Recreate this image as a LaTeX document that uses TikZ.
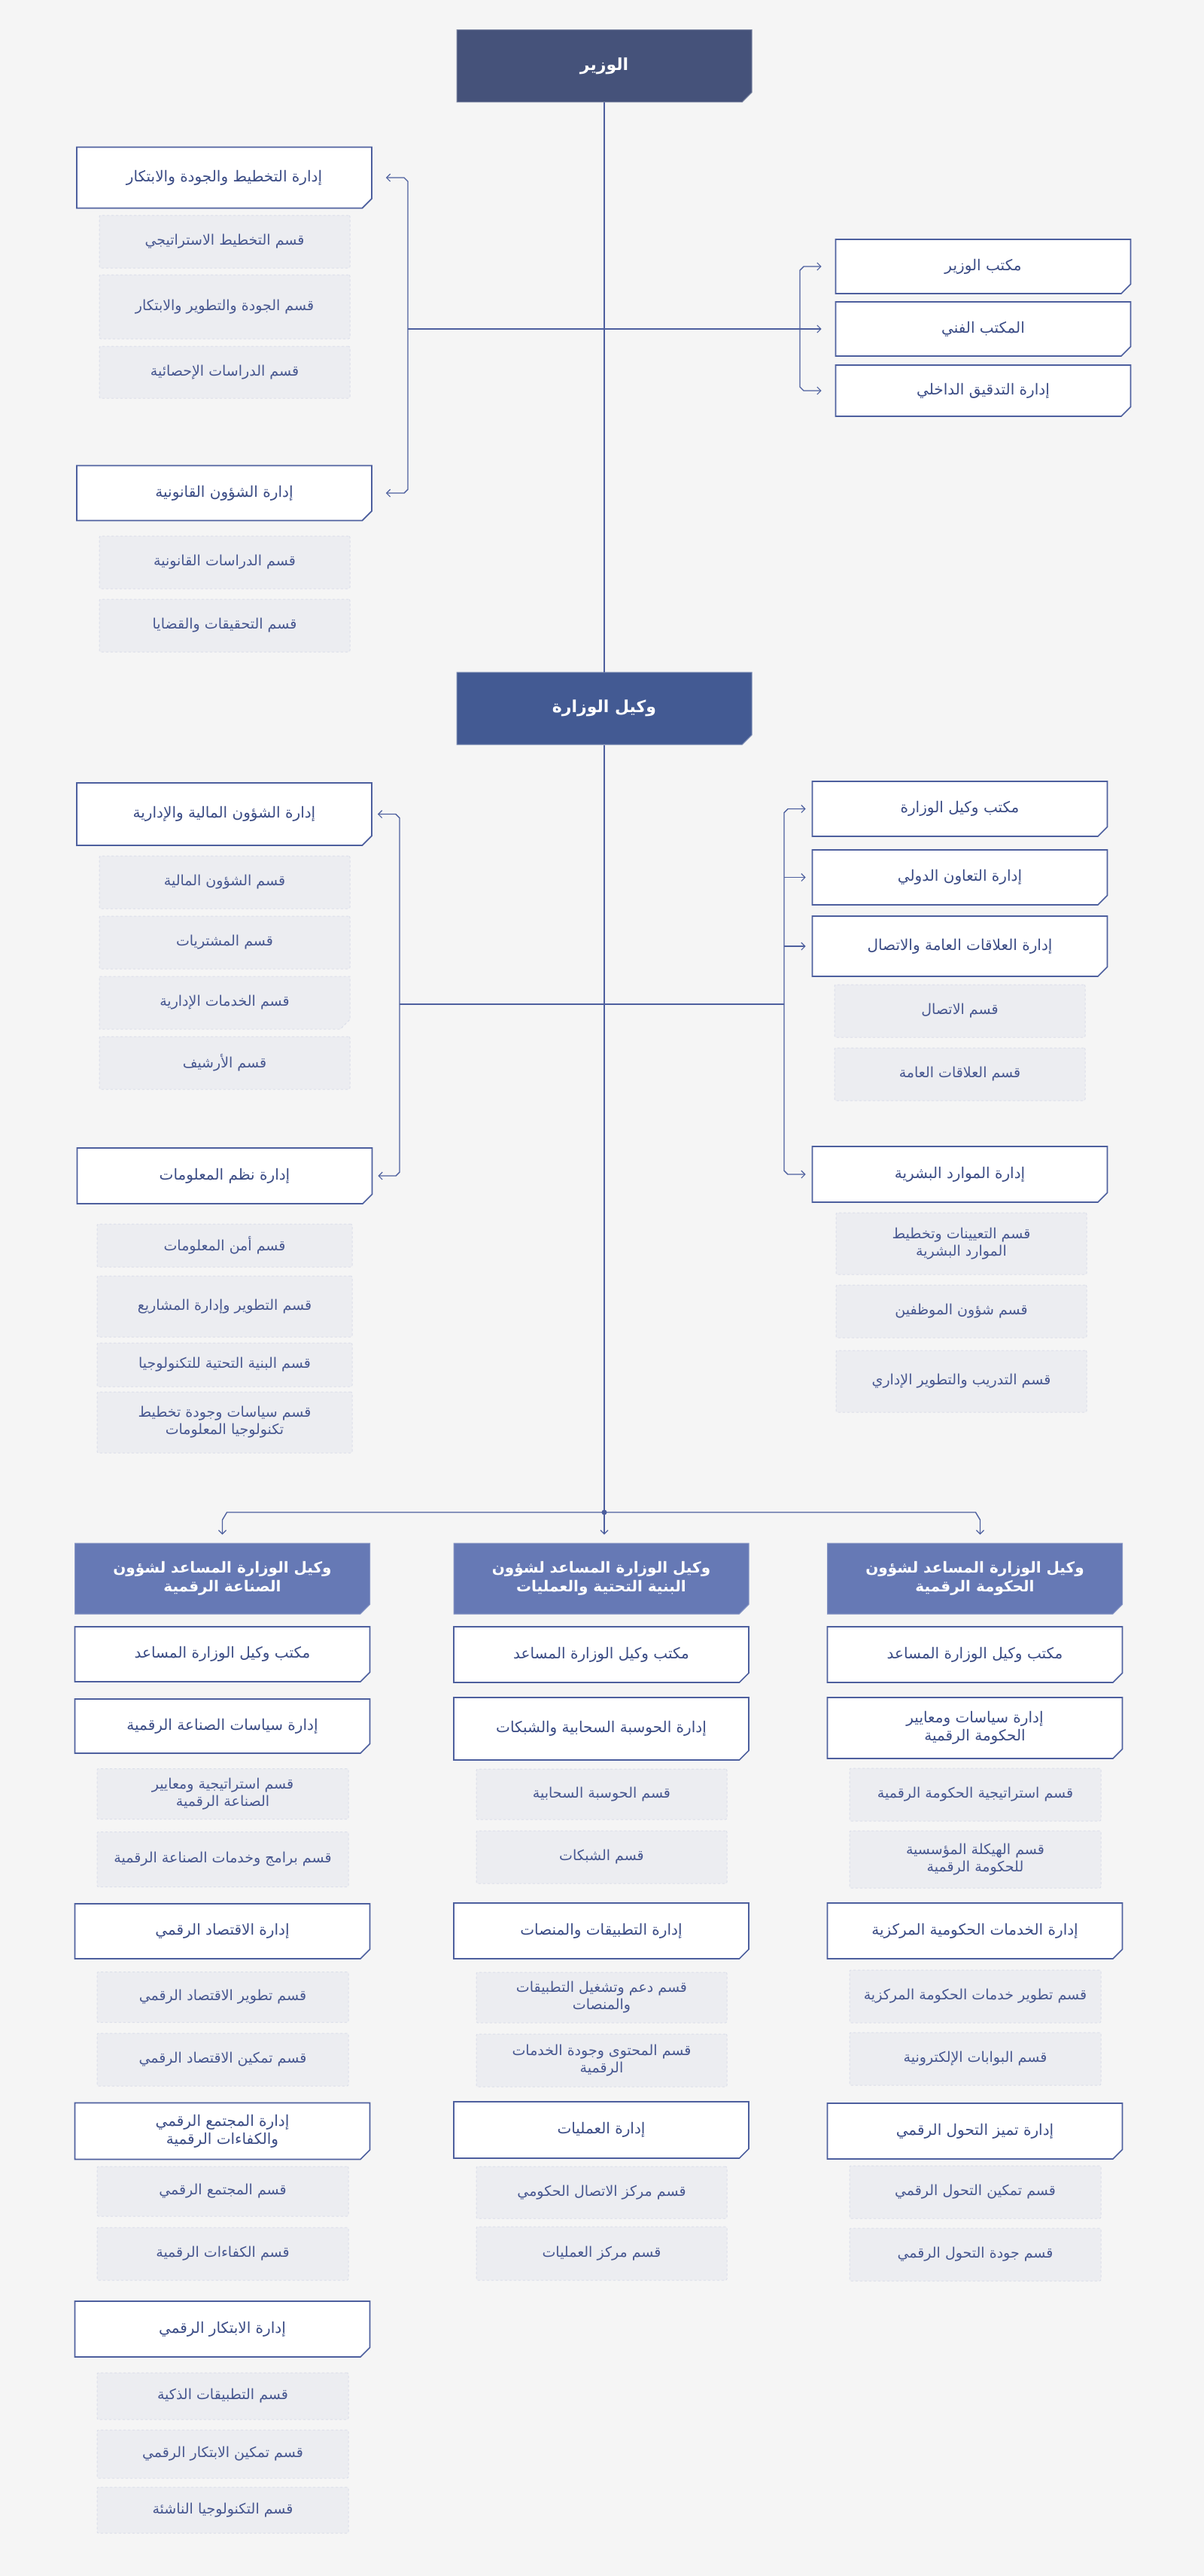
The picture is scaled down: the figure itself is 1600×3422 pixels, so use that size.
\documentclass[tikz,border=0pt]{standalone}
\usepackage{fontspec}
\setmainfont{DejaVu Sans}
\newfontfamily\arabicfont[Script=Arabic]{DejaVu Sans}
\TeXXeTstate=1
\usetikzlibrary{arrows.meta,calc,shapes.misc}
\definecolor{bgc}{HTML}{F5F5F5}
\definecolor{topc}{HTML}{45527A}
\definecolor{vicec}{HTML}{435A93}
\definecolor{headc}{HTML}{6679B5}
\definecolor{linec}{HTML}{4D5F9E}
\definecolor{deptc}{HTML}{3B4C85}
\definecolor{secfill}{HTML}{ECEDF1}
\definecolor{secdraw}{HTML}{DCDFEA}
\definecolor{sectext}{HTML}{475790}
\newcommand{\artxt}[1]{{\arabicfont\beginR #1\endR}}
\tikzset{
  conn/.style={draw=linec, line width=1.4pt},
  arrowend/.style={-{Straight Barb[length=5pt,width=10pt,line width=1.2pt]}},
  cutbox/.style={chamfered rectangle, chamfered rectangle corners=south east,
    chamfered rectangle xsep=9pt, inner sep=2pt, align=center},
  topbox/.style={cutbox, fill=#1, draw=#1!70!white, line width=1pt, text=white,
    font=\fontsize{22}{27}\selectfont\bfseries, minimum width=392pt, minimum height=96pt},
  headbox/.style={cutbox, fill=headc, draw=headc!80!white, line width=1pt, text=white,
    font=\fontsize{20}{25}\selectfont\bfseries, minimum width=392pt, minimum height=94pt},
  deptbox/.style={cutbox, fill=white, draw=linec, line width=1.6pt, text=deptc,
    font=\fontsize{20}{24}\selectfont, minimum width=392pt, minimum height=#1},
  deptbox/.default=74pt,
  secbox/.style={rectangle, rounded corners=2pt, fill=secfill, draw=secdraw, dashed,
    line width=1pt, text=sectext, align=center, font=\fontsize{19}{23}\selectfont,
    minimum width=333pt, minimum height=#1},
  secbox/.default=70pt,
  seccut/.style={cutbox, fill=secfill, draw=secdraw, dashed, line width=1pt, text=sectext,
    font=\fontsize{19}{23}\selectfont, minimum width=333pt, minimum height=70pt}
}
\begin{document}
\begin{tikzpicture}[x=1pt,y=-1pt]
\useasboundingbox[fill=bgc] (0,0) rectangle (1600,3422);

% minister
\node[topbox=topc] (minister) at (803,87.5) {\artxt{الوزير}};
\node[deptbox=81pt] (plan) at (298,236) {\artxt{إدارة التخطيط والجودة والابتكار}};
\node[secbox] (plan1) at (298.5,321) {\artxt{قسم التخطيط الاستراتيجي}};
\node[secbox=85pt] (plan2) at (298.5,407.5) {\artxt{قسم الجودة والتطوير والابتكار}};
\node[secbox=69pt] (plan3) at (298.5,494.5) {\artxt{قسم الدراسات الإحصائية}};
\node[deptbox=73pt] (legal) at (298,655) {\artxt{إدارة الشؤون القانونية}};
\node[secbox] (legal1) at (298.5,747) {\artxt{قسم الدراسات القانونية}};
\node[secbox] (legal2) at (298.5,831) {\artxt{قسم التحقيقات والقضايا}};
\node[deptbox=72pt] (moffice) at (1306.5,354) {\artxt{مكتب الوزير}};
\node[deptbox=72pt] (techoff) at (1306.5,437) {\artxt{المكتب الفني}};
\node[deptbox=68pt] (audit) at (1306.5,519) {\artxt{إدارة التدقيق الداخلي}};

\coordinate (mL) at (542,437);
\coordinate (mR) at (1063,437);
\draw[conn,arrowend,shorten >=18pt] (mL) -- (techoff.west);
\draw[conn,arrowend,shorten >=18pt] (mL) -- ($(mL |- plan.east)+(0,5)$) -- ($(mL |- plan.east)+(-5,0)$) -- (plan.east);
\draw[conn,arrowend,shorten >=18pt] (mL) -- ($(mL |- legal.east)+(0,-5)$) -- ($(mL |- legal.east)+(-5,0)$) -- (legal.east);
\draw[conn,arrowend,shorten >=18pt] (mR) -- ($(mR |- moffice.west)+(0,5)$) -- ($(mR |- moffice.west)+(5,0)$) -- (moffice.west);
\draw[conn,arrowend,shorten >=18pt] (mR) -- ($(mR |- audit.west)+(0,-5)$) -- ($(mR |- audit.west)+(5,0)$) -- (audit.west);

% vice minister
\node[topbox=vicec] (vice) at (803,941) {\artxt{وكيل الوزارة}};
\draw[conn] (minister.south) -- (vice.north);

\node[deptbox=83pt] (fin) at (298,1081.5) {\artxt{إدارة الشؤون المالية والإدارية}};
\node[secbox] (fin1) at (298.5,1172) {\artxt{قسم الشؤون المالية}};
\node[secbox] (fin2) at (298.5,1252) {\artxt{قسم المشتريات}};
\node[seccut] (fin3) at (298.5,1332) {\artxt{قسم الخدمات الإدارية}};
\node[secbox] (fin4) at (298.5,1412) {\artxt{قسم الأرشيف}};
\node[deptbox=74pt] (infosys) at (298.5,1562) {\artxt{إدارة نظم المعلومات}};
\node[secbox=57pt,minimum width=339pt] (info1) at (298.5,1654.5) {\artxt{قسم أمن المعلومات}};
\node[secbox=81pt,minimum width=339pt] (info2) at (298.5,1735.5) {\artxt{قسم التطوير وإدارة المشاريع}};
\node[secbox=58pt,minimum width=339pt] (info3) at (298.5,1813) {\artxt{قسم البنية التحتية للتكنولوجيا}};
\node[secbox=81pt,minimum width=339pt] (info4) at (298.5,1889.5) {\artxt{قسم سياسات وجودة تخطيط}\\\artxt{تكنولوجيا المعلومات}};

\node[deptbox=73pt] (voffice) at (1275.5,1074.5) {\artxt{مكتب وكيل الوزارة}};
\node[deptbox=73pt] (intl) at (1275.5,1165.5) {\artxt{إدارة التعاون الدولي}};
\node[deptbox=80pt] (pubrel) at (1275.5,1257) {\artxt{إدارة العلاقات العامة والاتصال}};
\node[secbox] (pubrel1) at (1275.5,1343) {\artxt{قسم الاتصال}};
\node[secbox] (pubrel2) at (1275.5,1427) {\artxt{قسم العلاقات العامة}};
\node[deptbox=74pt] (hres) at (1275.5,1560) {\artxt{إدارة الموارد البشرية}};
\node[secbox=82pt] (hres1) at (1277.5,1652) {\artxt{قسم التعيينات وتخطيط}\\\artxt{الموارد البشرية}};
\node[secbox] (hres2) at (1277.5,1742) {\artxt{قسم شؤون الموظفين}};
\node[secbox=82pt] (hres3) at (1277.5,1835) {\artxt{قسم التدريب والتطوير الإداري}};

\coordinate (vL) at (531,1334);
\coordinate (vR) at (1042,1334);
\draw[conn] (vL) -- (vR);
\draw[conn,arrowend,shorten >=7pt] (vL) -- ($(vL |- fin.east)+(0,5)$) -- ($(vL |- fin.east)+(-5,0)$) -- (fin.east);
\draw[conn,arrowend,shorten >=7pt] (vL) -- ($(vL |- infosys.east)+(0,-5)$) -- ($(vL |- infosys.east)+(-5,0)$) -- (infosys.east);
\draw[conn,arrowend,shorten >=8pt] (vR) -- ($(vR |- voffice.west)+(0,5)$) -- ($(vR |- voffice.west)+(5,0)$) -- (voffice.west);
\draw[conn,arrowend,shorten >=8pt] (vR |- intl.west) -- (intl.west);
\draw[conn,arrowend,shorten >=8pt] (vR |- pubrel.west) -- (pubrel.west);
\draw[conn,arrowend,shorten >=8pt] (vR) -- ($(vR |- hres.west)+(0,-5)$) -- ($(vR |- hres.west)+(5,0)$) -- (hres.west);

% assistant deputies
\node[headbox] (avmind) at (295.5,2097) {\artxt{وكيل الوزارة المساعد لشؤون}\\\artxt{الصناعة الرقمية}};
\node[headbox] (avminfra) at (799,2097) {\artxt{وكيل الوزارة المساعد لشؤون}\\\artxt{البنية التحتية والعمليات}};
\node[headbox] (avmgov) at (1295.5,2097) {\artxt{وكيل الوزارة المساعد لشؤون}\\\artxt{الحكومة الرقمية}};

\coordinate (jn) at (803,2009);
\draw[conn] (vice.south) -- (jn);
\fill[linec] (jn) circle (3.5);
\draw[conn,arrowend,shorten >=11pt] (jn) -- (jn |- avminfra.north);
\draw[conn,arrowend,shorten >=11pt] (jn) -- ($(avmind.north |- jn)+(6,0)$) -- ($(avmind.north |- jn)+(0,10)$) -- (avmind.north);
\draw[conn,arrowend,shorten >=11pt] (jn) -- ($(avmgov.north |- jn)+(1,0)$) -- ($(avmgov.north |- jn)+(7,10)$) -- ([xshift=7pt]avmgov.north);

% digital industry
\node[deptbox=73pt] (ind0) at (295.5,2197.5) {\artxt{مكتب وكيل الوزارة المساعد}};
\node[deptbox=72pt] (ind1) at (295.5,2293) {\artxt{إدارة سياسات الصناعة الرقمية}};
\node[secbox=67pt,minimum width=334pt] (ind1a) at (296,2383) {\artxt{قسم استراتيجية ومعايير}\\\artxt{الصناعة الرقمية}};
\node[secbox=73pt,minimum width=334pt] (ind1b) at (296,2470) {\artxt{قسم برامج وخدمات الصناعة الرقمية}};
\node[deptbox=73pt] (ind2) at (295.5,2565.5) {\artxt{إدارة الاقتصاد الرقمي}};
\node[secbox=67pt,minimum width=334pt] (ind2a) at (296,2653) {\artxt{قسم تطوير الاقتصاد الرقمي}};
\node[secbox=70pt,minimum width=334pt] (ind2b) at (296,2736) {\artxt{قسم تمكين الاقتصاد الرقمي}};
\node[deptbox=75pt] (ind3) at (295.5,2831) {\artxt{إدارة المجتمع الرقمي}\\\artxt{والكفاءات الرقمية}};
\node[secbox=66pt,minimum width=334pt] (ind3a) at (296,2911) {\artxt{قسم المجتمع الرقمي}};
\node[secbox=70pt,minimum width=334pt] (ind3b) at (296,2994) {\artxt{قسم الكفاءات الرقمية}};
\node[deptbox=74pt] (ind4) at (295.5,3094) {\artxt{إدارة الابتكار الرقمي}};
\node[secbox=62pt,minimum width=334pt] (ind4a) at (296,3183) {\artxt{قسم التطبيقات الذكية}};
\node[secbox=64pt,minimum width=334pt] (ind4b) at (296,3260) {\artxt{قسم تمكين الابتكار الرقمي}};
\node[secbox=61pt,minimum width=334pt] (ind4c) at (296,3334.5) {\artxt{قسم التكنولوجيا الناشئة}};

% infrastructure and operations
\node[deptbox=74pt] (inf0) at (799,2198) {\artxt{مكتب وكيل الوزارة المساعد}};
\node[deptbox=83pt] (inf1) at (799,2296.5) {\artxt{إدارة الحوسبة السحابية والشبكات}};
\node[secbox=67pt] (inf1a) at (799.5,2383.5) {\artxt{قسم الحوسبة السحابية}};
\node[secbox=70pt] (inf1b) at (799.5,2467) {\artxt{قسم الشبكات}};
\node[deptbox=74pt] (inf2) at (799,2565) {\artxt{إدارة التطبيقات والمنصات}};
\node[secbox=67pt] (inf2a) at (799.5,2653.5) {\artxt{قسم دعم وتشغيل التطبيقات}\\\artxt{والمنصات}};
\node[secbox=70pt] (inf2b) at (799.5,2737) {\artxt{قسم المحتوى وجودة الخدمات}\\\artxt{الرقمية}};
\node[deptbox=75pt] (inf3) at (799,2829.5) {\artxt{إدارة العمليات}};
\node[secbox=69pt] (inf3a) at (799.5,2912.5) {\artxt{قسم مركز الاتصال الحكومي}};
\node[secbox=71pt] (inf3b) at (799.5,2993.5) {\artxt{قسم مركز العمليات}};

% digital government
\node[deptbox=74pt] (gov0) at (1295.5,2198) {\artxt{مكتب وكيل الوزارة المساعد}};
\node[deptbox=81pt] (gov1) at (1295.5,2295.5) {\artxt{إدارة سياسات ومعايير}\\\artxt{الحكومة الرقمية}};
\node[secbox=70pt,minimum width=334pt] (gov1a) at (1296,2384) {\artxt{قسم استراتيجية الحكومة الرقمية}};
\node[secbox=76pt,minimum width=334pt] (gov1b) at (1296,2470) {\artxt{قسم الهيكلة المؤسسية}\\\artxt{للحكومة الرقمية}};
\node[deptbox=74pt] (gov2) at (1295.5,2565) {\artxt{إدارة الخدمات الحكومية المركزية}};
\node[secbox=70pt,minimum width=334pt] (gov2a) at (1296,2652) {\artxt{قسم تطوير خدمات الحكومة المركزية}};
\node[secbox=70pt,minimum width=334pt] (gov2b) at (1296,2735) {\artxt{قسم البوابات الإلكترونية}};
\node[deptbox=74pt] (gov3) at (1295.5,2831) {\artxt{إدارة تميز التحول الرقمي}};
\node[secbox=70pt,minimum width=334pt] (gov3a) at (1296,2912) {\artxt{قسم تمكين التحول الرقمي}};
\node[secbox=70pt,minimum width=334pt] (gov3b) at (1296,2995) {\artxt{قسم جودة التحول الرقمي}};
\end{tikzpicture}
\end{document}
